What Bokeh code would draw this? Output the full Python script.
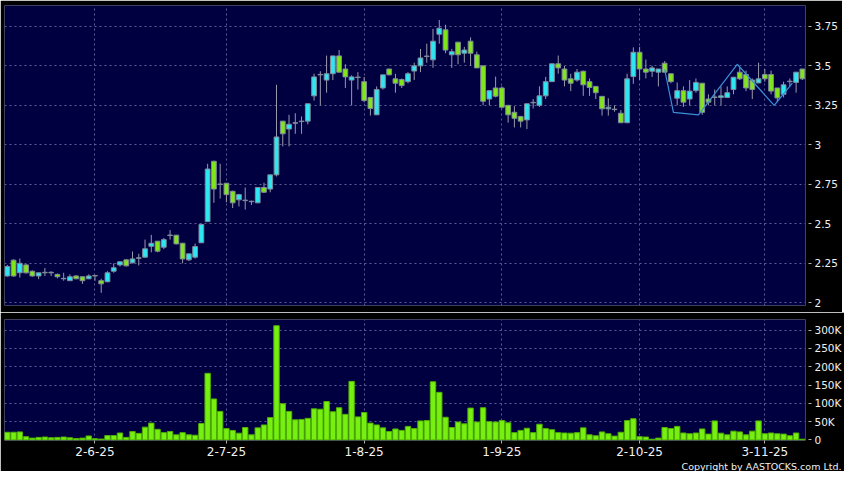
from bokeh.plotting import figure
from bokeh.layouts import column
from bokeh.models import FixedTicker, Range1d, Title, ColumnDataSource
from bokeh.embed import file_html
from bokeh.resources import INLINE

# ---------------- data ----------------
opens = [2.17, 2.27, 2.19, 2.24, 2.20, 2.17, 2.19, 2.19, 2.18, 2.152,
         2.14, 2.17, 2.165, 2.152, 2.17, 2.14, 2.133, 2.20, 2.24, 2.272,
         2.253, 2.282, 2.289, 2.358, 2.39, 2.352, 2.426, 2.428, 2.377, 2.272,
         2.289, 2.38, 2.514, 2.896, 2.749, 2.757, 2.706, 2.652, 2.647, 2.64,
         2.633, 2.73, 2.72, 2.81, 3.15, 3.10, 3.137, 3.147, 3.15, 3.31,
         3.443, 3.41, 3.45, 3.563, 3.48, 3.41, 3.426, 3.40, 3.30, 3.19,
         3.36, 3.48, 3.418, 3.413, 3.40, 3.467, 3.50, 3.559, 3.538, 3.70,
         3.728, 3.57, 3.65, 3.58, 3.656, 3.57, 3.50, 3.29, 3.36, 3.36,
         3.25, 3.206, 3.18, 3.158, 3.266, 3.25, 3.31, 3.40, 3.513, 3.48,
         3.418, 3.41, 3.466, 3.40, 3.37, 3.307, 3.228, 3.223, 3.20, 3.14,
         3.432, 3.586, 3.48, 3.466, 3.46, 3.517, 3.45, 3.295, 3.343, 3.29,
         3.343, 3.39, 3.29, 3.30, 3.30, 3.30, 3.35, 3.46, 3.445, 3.41,
         3.392, 3.445, 3.445, 3.36, 3.32, 3.40, 3.395, 3.48]
highs = [2.24, 2.275, 2.28, 2.245, 2.205, 2.19, 2.22, 2.20, 2.185, 2.19,
         2.18, 2.175, 2.165, 2.18, 2.17, 2.152, 2.20, 2.25, 2.26, 2.275,
         2.325, 2.31, 2.40, 2.43, 2.39, 2.41, 2.46, 2.43, 2.38, 2.31,
         2.375, 2.50, 2.88, 2.90, 2.88, 2.757, 2.71, 2.69, 2.73, 2.647,
         2.73, 2.76, 2.81, 3.38, 3.15, 3.19, 3.20, 3.18, 3.26, 3.45,
         3.466, 3.565, 3.563, 3.60, 3.51, 3.44, 3.46, 3.43, 3.30, 3.37,
         3.443, 3.48, 3.45, 3.42, 3.46, 3.52, 3.607, 3.64, 3.734, 3.79,
         3.76, 3.607, 3.65, 3.62, 3.68, 3.59, 3.50, 3.343, 3.432, 3.37,
         3.25, 3.245, 3.18, 3.26, 3.29, 3.37, 3.43, 3.513, 3.565, 3.50,
         3.45, 3.48, 3.47, 3.42, 3.37, 3.307, 3.295, 3.25, 3.22, 3.45,
         3.617, 3.62, 3.54, 3.50, 3.48, 3.53, 3.45, 3.395, 3.37, 3.41,
         3.42, 3.39, 3.32, 3.35, 3.37, 3.37, 3.43, 3.49, 3.47, 3.42,
         3.52, 3.48, 3.47, 3.36, 3.40, 3.42, 3.46, 3.48]
lows = [2.165, 2.165, 2.16, 2.185, 2.165, 2.15, 2.17, 2.17, 2.155, 2.14,
        2.14, 2.15, 2.12, 2.15, 2.14, 2.063, 2.133, 2.19, 2.23, 2.23,
        2.25, 2.236, 2.285, 2.32, 2.32, 2.34, 2.40, 2.37, 2.25, 2.265,
        2.28, 2.38, 2.514, 2.633, 2.66, 2.637, 2.60, 2.61, 2.59, 2.62,
        2.633, 2.695, 2.70, 2.80, 2.99, 2.99, 3.07, 3.07, 3.13, 3.28,
        3.25, 3.33, 3.41, 3.46, 3.36, 3.25, 3.35, 3.27, 3.185, 3.19,
        3.35, 3.44, 3.33, 3.36, 3.39, 3.41, 3.46, 3.52, 3.487, 3.64,
        3.58, 3.487, 3.51, 3.52, 3.50, 3.487, 3.25, 3.25, 3.30, 3.23,
        3.14, 3.11, 3.11, 3.10, 3.23, 3.24, 3.29, 3.40, 3.45, 3.37,
        3.34, 3.40, 3.31, 3.31, 3.29, 3.185, 3.185, 3.21, 3.14, 3.14,
        3.386, 3.41, 3.42, 3.43, 3.37, 3.46, 3.39, 3.25, 3.24, 3.25,
        3.33, 3.19, 3.25, 3.25, 3.25, 3.30, 3.32, 3.41, 3.34, 3.29,
        3.39, 3.40, 3.32, 3.27, 3.30, 3.37, 3.33, 3.41]
closes = [2.23, 2.17, 2.25, 2.19, 2.17, 2.19, 2.19, 2.19, 2.165, 2.152,
          2.165, 2.152, 2.14, 2.17, 2.17, 2.12, 2.19, 2.222, 2.26, 2.234,
          2.278, 2.282, 2.342, 2.377, 2.327, 2.40, 2.426, 2.373, 2.278, 2.31,
          2.356, 2.496, 2.847, 2.72, 2.749, 2.685, 2.633, 2.685, 2.647, 2.64,
          2.73, 2.70, 2.81, 3.05, 3.07, 3.13, 3.137, 3.147, 3.26, 3.43,
          3.443, 3.45, 3.563, 3.46, 3.43, 3.43, 3.426, 3.28, 3.23, 3.35,
          3.443, 3.443, 3.39, 3.375, 3.45, 3.50, 3.55, 3.559, 3.656, 3.738,
          3.60, 3.59, 3.57, 3.60, 3.58, 3.487, 3.276, 3.343, 3.308, 3.238,
          3.19, 3.168, 3.15, 3.26, 3.266, 3.31, 3.40, 3.513, 3.487, 3.41,
          3.39, 3.46, 3.38, 3.363, 3.33, 3.228, 3.238, 3.223, 3.14, 3.418,
          3.586, 3.48, 3.46, 3.487, 3.48, 3.46, 3.40, 3.343, 3.27, 3.34,
          3.395, 3.206, 3.27, 3.30, 3.31, 3.33, 3.428, 3.418, 3.36, 3.35,
          3.418, 3.418, 3.34, 3.297, 3.38, 3.40, 3.46, 3.418]
volumes = [21000, 21000, 22000, 9000, 5000, 7000, 8000, 6000, 7000, 8000,
           6000, 4000, 5000, 11000, 3500, 2500, 12000, 12000, 19000, 7000,
           23000, 18000, 35000, 46000, 29000, 20000, 23000, 14000, 20000, 14000,
           13000, 45000, 182000, 112000, 78000, 31000, 26000, 18500, 34000, 14000,
           33000, 41000, 61000, 312000, 99000, 78000, 55000, 56000, 59000, 85000,
           84000, 105000, 77000, 88000, 70000, 160000, 63000, 75000, 46000, 41000,
           33000, 23000, 30000, 26000, 37000, 31000, 52000, 53000, 159000, 130000,
           62000, 34000, 49000, 44000, 87000, 49000, 88000, 50000, 49000, 53000,
           47000, 20000, 26000, 32000, 20000, 43000, 31000, 28000, 20000, 19000,
           18500, 20000, 33000, 14000, 11500, 22000, 17000, 10500, 21000, 53000,
           58000, 9000, 8000, 2000, 5000, 34000, 31000, 37000, 19000, 17000,
           19000, 30000, 16000, 52000, 18500, 14000, 24000, 22000, 14000, 24000,
           52000, 17000, 19000, 17000, 16000, 11500, 19000, 2000]

zig_x = [105.0, 106.4, 110.4, 116.6, 122.5, 125.4]
zig_y = [3.478, 3.206, 3.19, 3.51, 3.25, 3.39]

x_tick_pos = [14, 35, 57, 79, 101, 121]
x_tick_labels = ["2-6-25", "2-7-25", "1-8-25", "1-9-25", "2-10-25", "3-11-25"]
price_ticks = [2, 2.25, 2.5, 2.75, 3, 3.25, 3.5, 3.75]
price_tick_labels = ["2", "2.25", "2.5", "2.75", "3", "3.25", "3.5", "3.75"]
vol_ticks = [0, 50000, 100000, 150000, 200000, 250000, 300000]
vol_tick_labels = ["0", "50K", "100K", "150K", "200K", "250K", "300K"]

# ---------------- styles ----------------
BG = "#000040"
GRID = "#5c5c94"
UP = "#2ee6f2"
DOWN = "#80e61a"
FLAT = "#9a9aaa"
EDGE = "#7f8a99"
WICK = "#9a9aaa"
VOL_FILL = "#77f011"
VOL_EDGE = "#4fb000"
TXT = "#f0f0f0"
FONT = "DejaVu Sans"

n = len(opens)
xs = list(range(n))
tops, bottoms, colors = [], [], []
for o, c in zip(opens, closes):
    if c > o:
        colors.append(UP)
    elif c < o:
        colors.append(DOWN)
    else:
        colors.append(FLAT)
    tops.append(max(o, c) + (0.003 if c == o else 0))
    bottoms.append(min(o, c))

src = ColumnDataSource(dict(x=xs, high=highs, low=lows, top=tops, bottom=bottoms,
                            color=colors, vol=volumes))

x_range = Range1d(-0.45, 127.5)

common = dict(frame_width=801, output_backend="svg", toolbar_location=None,
              x_axis_location="below", y_axis_location="right",
              min_border_left=4, min_border_right=37,
              background_fill_color=BG, border_fill_color="black",
              outline_line_color=None)

p = figure(frame_height=300, x_range=x_range, y_range=Range1d(1.983, 3.882),
           min_border_top=5, min_border_bottom=7, **common)
v = figure(frame_height=121, x_range=x_range, y_range=Range1d(-1500, 329000),
           min_border_top=7, min_border_bottom=30, **common)


def style_y(fig, ticks, labels):
    ax = fig.yaxis[0]
    ax.ticker = FixedTicker(ticks=ticks)
    ax.major_label_overrides = {t: l for t, l in zip(ticks, labels)}
    ax.axis_line_color = None
    ax.major_tick_line_color = "#b0b0b0"
    ax.major_tick_in = -3
    ax.major_tick_out = 6
    ax.minor_tick_line_color = None
    ax.major_label_standoff = 3
    ax.major_label_text_color = TXT
    ax.major_label_text_font = FONT
    ax.major_label_text_font_size = "10.5px"
    fig.ygrid.ticker = FixedTicker(ticks=ticks)
    fig.ygrid.grid_line_color = GRID
    fig.ygrid.grid_line_dash = "2 3"
    fig.xgrid.ticker = FixedTicker(ticks=x_tick_pos)
    fig.xgrid.grid_line_color = GRID
    fig.xgrid.grid_line_dash = "2 3"


style_y(p, price_ticks, price_tick_labels)
style_y(v, vol_ticks, vol_tick_labels)
p.xaxis.visible = False

xa = v.xaxis[0]
xa.ticker = FixedTicker(ticks=x_tick_pos)
xa.major_label_overrides = {t: l for t, l in zip(x_tick_pos, x_tick_labels)}
xa.axis_line_color = None
xa.major_tick_line_color = "#b0b0b0"
xa.major_tick_in = 0
xa.major_tick_out = 3
xa.minor_tick_line_color = None
xa.major_label_standoff = 3
xa.major_label_text_color = TXT
xa.major_label_text_font = FONT
xa.major_label_text_font_size = "12px"

p.segment(x0="x", y0="low", x1="x", y1="high", source=src, line_color=WICK, line_width=1)
p.vbar(x="x", top="top", bottom="bottom", width=0.76, source=src,
       fill_color="color", line_color=EDGE, line_width=1)
p.line(zig_x, zig_y, line_color="#3c8ed6", line_width=1.2)

v.vbar(x="x", top="vol", bottom=0, width=0.86, source=src,
       fill_color=VOL_FILL, line_color=VOL_EDGE, line_width=1)

v.add_layout(Title(text="Copyright by AASTOCKS.com Ltd.", align="right",
                   text_color=TXT, text_font=FONT, text_font_size="9.5px",
                   text_font_style="normal", standoff=0, offset=-36), "below")

layout = column(p, v, spacing=0)
open("out.html", "w").write(file_html(layout, INLINE))
